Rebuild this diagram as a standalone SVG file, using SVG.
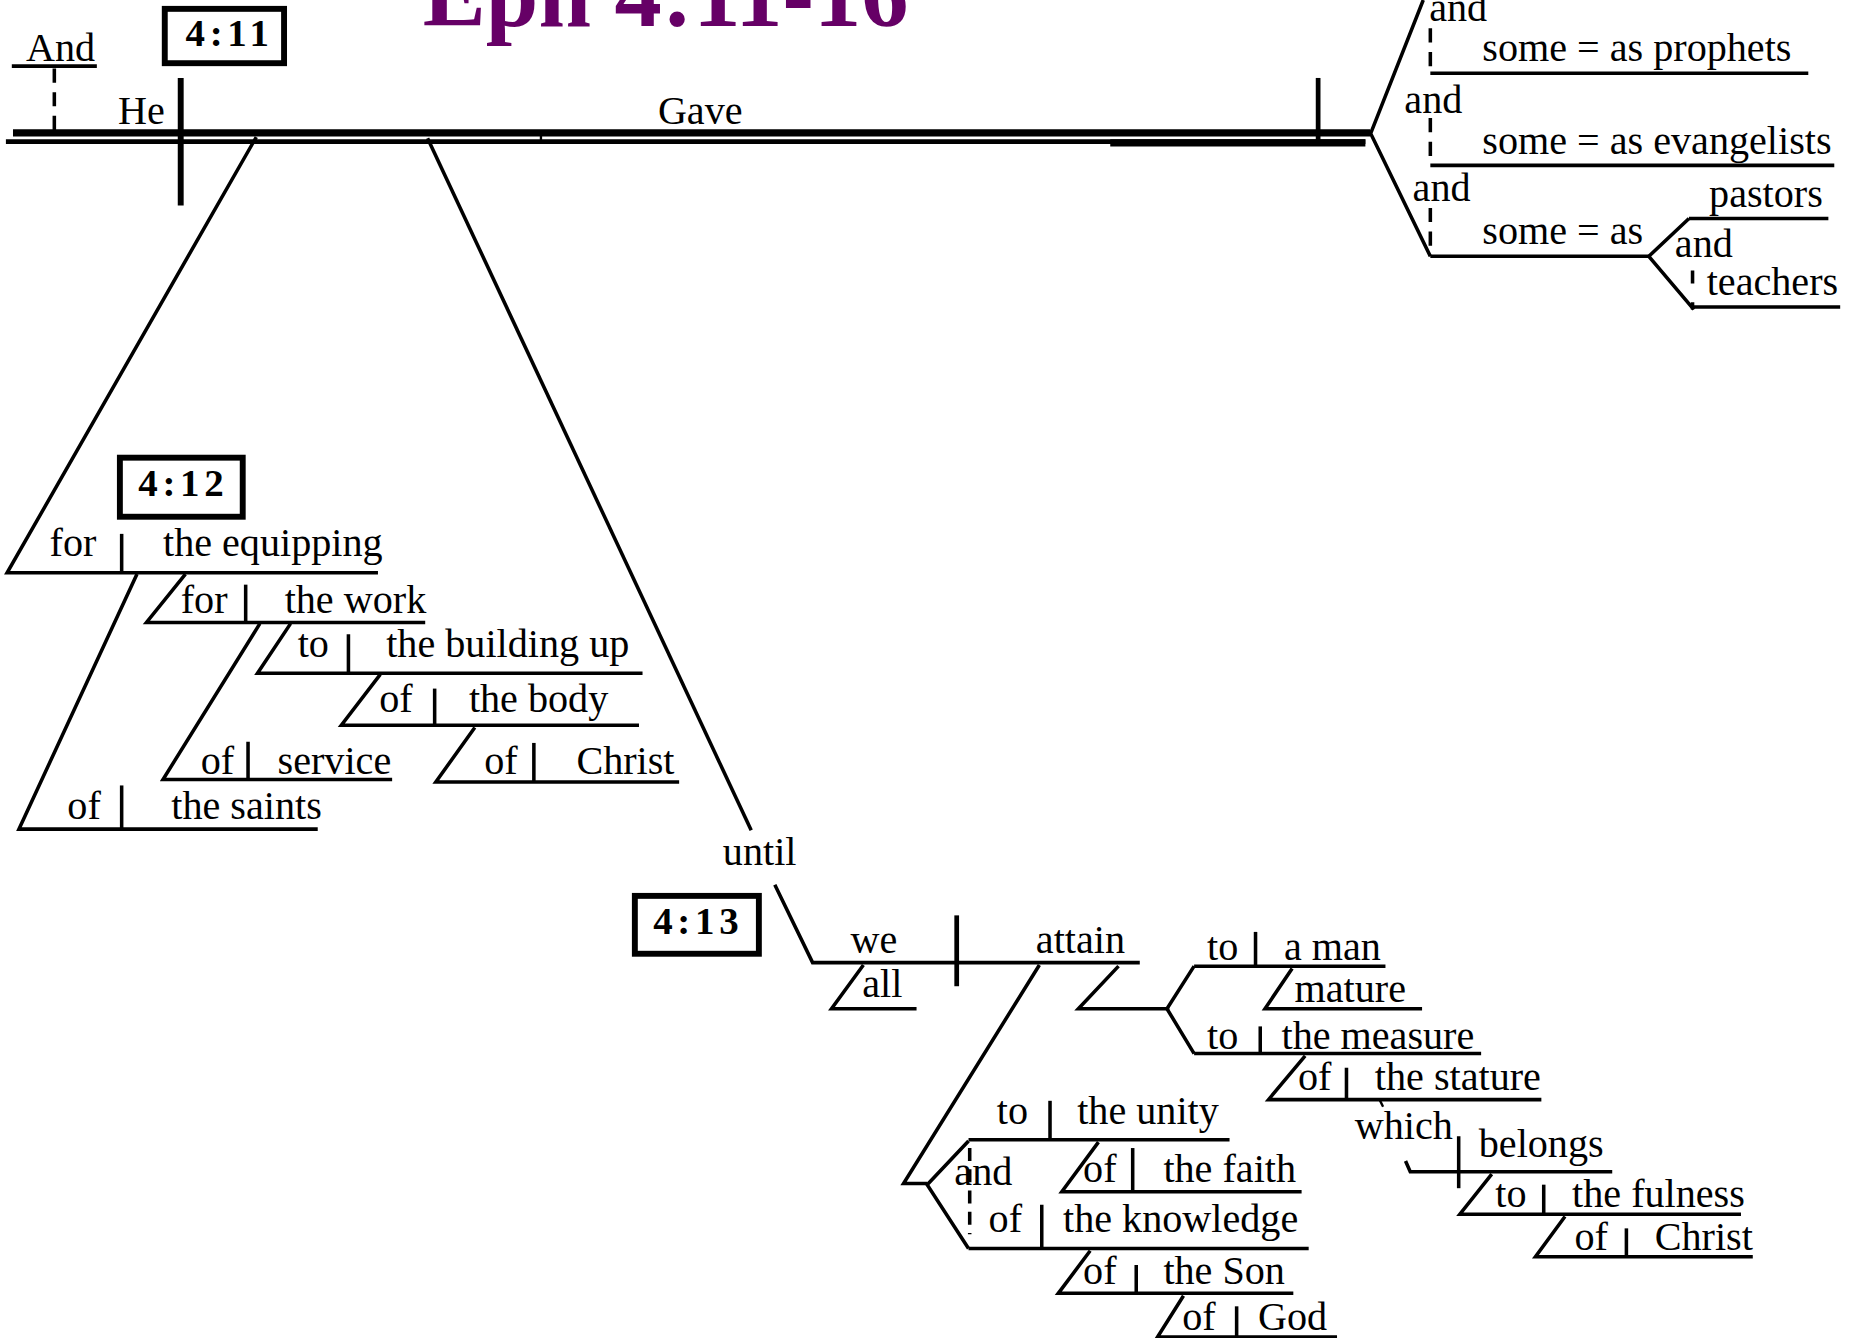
<svg xmlns="http://www.w3.org/2000/svg" width="1852" height="1338" viewBox="0 0 1852 1338">
<style>
.t{font-family:"Liberation Serif","Times New Roman",serif;font-size:34px;fill:#000}
.n{font-family:"Liberation Serif","Times New Roman",serif;font-size:33px;font-weight:bold;letter-spacing:4px;fill:#000}
.ttl{font-family:"Liberation Serif","Times New Roman",serif;font-size:80px;font-weight:bold;fill:#660066}
.l{stroke:#000;stroke-width:3;fill:none}
.v{stroke:#000;stroke-width:3;fill:none}
.d{stroke:#000;stroke-width:3;fill:none;stroke-dasharray:12 8}
.box{fill:#fff;stroke:#000;stroke-width:5}
</style>
<rect width="1852" height="1338" fill="#fff"/>
<g transform="scale(1.18112)">
<g id="title"><text class="ttl" x="358" y="22">Eph 4:11-16</text></g>
<g id="connectors">
  <line class="l" x1="10" y1="56" x2="82" y2="56"/>
  <line class="d" x1="46" y1="58" x2="46" y2="112"/>
  <line class="l" x1="11" y1="112.5" x2="1160" y2="112.5" style="stroke-width:6"/>
  <line class="l" x1="5" y1="120" x2="1156" y2="120" style="stroke-width:4"/>
  <line class="l" x1="940" y1="121" x2="1156" y2="121" style="stroke-width:6"/>
  <line class="l" x1="458" y1="115" x2="458" y2="119" style="stroke-width:2"/>
  <line class="v" x1="153" y1="66" x2="153" y2="174" style="stroke-width:5"/>
  <line class="v" x1="1116" y1="66" x2="1116" y2="119" style="stroke-width:4"/>
  <polyline class="l" points="1205,0 1160.5,113 1211,217"/>
  <line class="d" x1="1211" y1="24" x2="1211" y2="62"/>
  <line class="l" x1="1211" y1="62" x2="1531" y2="62"/>
  <line class="d" x1="1211" y1="100" x2="1211" y2="140"/>
  <line class="l" x1="1211" y1="140" x2="1553" y2="140"/>
  <line class="d" x1="1211" y1="176" x2="1211" y2="217"/>
  <line class="l" x1="1211" y1="217" x2="1396" y2="217"/>
  <polyline class="l" points="1430,185 1396,217 1434,262"/>
  <line class="l" x1="1430" y1="185" x2="1548" y2="185"/>
  <line class="d" x1="1433" y1="229" x2="1433" y2="262" style="stroke-dasharray:11 16 8"/>
  <line class="l" x1="1433" y1="260" x2="1558" y2="260"/>
  <polyline class="l" points="217,116 6,485 320,485"/>
  <line class="v" x1="103" y1="452" x2="103" y2="485"/>
  <polyline class="l" points="116,486 16,702 269,702"/>
  <line class="v" x1="103" y1="665" x2="103" y2="702"/>
  <polyline class="l" points="157,486 124,527 360,527"/>
  <line class="v" x1="208" y1="495" x2="208" y2="527"/>
  <polyline class="l" points="220,528 138,660 332,660"/>
  <line class="v" x1="210" y1="628" x2="210" y2="660"/>
  <polyline class="l" points="246,528 218,570 544,570"/>
  <line class="v" x1="295" y1="537" x2="295" y2="570"/>
  <polyline class="l" points="322,571 289,614 541,614"/>
  <line class="v" x1="368" y1="583" x2="368" y2="614"/>
  <polyline class="l" points="402,616 369,662 575,662"/>
  <line class="v" x1="452" y1="629" x2="452" y2="662"/>
  <line class="l" x1="362" y1="117" x2="636" y2="703"/>
  <polyline class="l" points="656,749 688,815 965,815"/>
  <line class="v" x1="810" y1="775" x2="810" y2="835" style="stroke-width:4"/>
  <polyline class="l" points="731,817 704,854 776,854"/>
  <polyline class="l" points="880,817 765,1002 785,1002"/>
  <polyline class="l" points="820,966 785,1003 820,1057"/>
  <line class="l" x1="820" y1="965" x2="1041" y2="965"/>
  <line class="v" x1="889" y1="932" x2="889" y2="965"/>
  <line class="d" x1="821" y1="972" x2="821" y2="1045" style="stroke-dasharray:11 7"/>
  <polyline class="l" points="930,967 899,1009 1102,1009"/>
  <line class="v" x1="959" y1="972" x2="959" y2="1009"/>
  <line class="l" x1="820" y1="1057" x2="1108" y2="1057"/>
  <line class="v" x1="882" y1="1020" x2="882" y2="1057"/>
  <polyline class="l" points="923,1059 896,1095 1095,1095"/>
  <line class="v" x1="962" y1="1071" x2="962" y2="1095"/>
  <polyline class="l" points="1002,1097 980,1132 1132,1132"/>
  <line class="v" x1="1047" y1="1106" x2="1047" y2="1132"/>
  <polyline class="l" points="947,818 913,854 990,854"/>
  <polyline class="l" points="1011,818 988,854 1011,892"/>
  <line class="l" x1="1011" y1="818" x2="1173" y2="818"/>
  <line class="v" x1="1063" y1="789" x2="1063" y2="818"/>
  <polyline class="l" points="1094,820 1071,854 1204,854"/>
  <line class="l" x1="1011" y1="892" x2="1254" y2="892"/>
  <line class="v" x1="1067" y1="869" x2="1067" y2="892"/>
  <polyline class="l" points="1105,894 1074,931 1305,931"/>
  <line class="v" x1="1140" y1="904" x2="1140" y2="931"/>
  <line class="l" x1="1168" y1="931" x2="1171" y2="937" style="stroke-width:2"/>
  <polyline class="l" points="1190,983 1194,992 1365,992"/>
  <line class="v" x1="1235" y1="962" x2="1235" y2="1006"/>
  <polyline class="l" points="1263,994 1236,1028 1474,1028"/>
  <line class="v" x1="1307" y1="1003" x2="1307" y2="1028"/>
  <polyline class="l" points="1325,1030 1300,1064 1484,1064"/>
  <line class="v" x1="1377" y1="1040" x2="1377" y2="1064"/>
</g>
<g id="v411"><rect class="box" x="139.5" y="7.5" width="101" height="46"/><text class="n" x="157" y="39">4:11</text></g>
<g id="v412"><rect class="box" x="101.5" y="387.5" width="104" height="50"/><text class="n" x="117" y="420">4:12</text></g>
<g id="v413"><rect class="box" x="537.5" y="758.5" width="105" height="49"/><text class="n" x="553" y="791">4:13</text></g>
<g id="main">
  <text class="t" x="22" y="52">And</text>
  <text class="t" x="100" y="105">He</text>
  <text class="t" x="557" y="105">Gave</text>
</g>
<g id="objects">
  <text class="t" x="1210" y="18">and</text>
  <text class="t" x="1255" y="52">some = as prophets</text>
  <text class="t" x="1189" y="96">and</text>
  <text class="t" x="1255" y="130">some = as evangelists</text>
  <text class="t" x="1196" y="170">and</text>
  <text class="t" x="1255" y="207">some = as</text>
  <text class="t" x="1447" y="175">pastors</text>
  <text class="t" x="1418" y="218">and</text>
  <text class="t" x="1445" y="250">teachers</text>
</g>
<g id="equipping">
  <text class="t" x="42" y="471">for</text>
  <text class="t" x="138" y="471">the equipping</text>
  <text class="t" x="57" y="693">of</text>
  <text class="t" x="145" y="693">the saints</text>
  <text class="t" x="153" y="519">for</text>
  <text class="t" x="241" y="519">the work</text>
  <text class="t" x="170" y="655">of</text>
  <text class="t" x="235" y="655">service</text>
  <text class="t" x="252" y="556">to</text>
  <text class="t" x="327" y="556">the building up</text>
  <text class="t" x="321" y="603">of</text>
  <text class="t" x="397" y="603">the body</text>
  <text class="t" x="410" y="655">of</text>
  <text class="t" x="488" y="655">Christ</text>
</g>
<g id="until">
  <text class="t" x="612" y="732">until</text>
  <text class="t" x="720" y="807">we</text>
  <text class="t" x="877" y="807">attain</text>
  <text class="t" x="730" y="844">all</text>
</g>
<g id="unity">
  <text class="t" x="844" y="952">to</text>
  <text class="t" x="912" y="952">the unity</text>
  <text class="t" x="808" y="1003">and</text>
  <text class="t" x="917" y="1001">of</text>
  <text class="t" x="985" y="1001">the faith</text>
  <text class="t" x="837" y="1043">of</text>
  <text class="t" x="900" y="1043">the knowledge</text>
  <text class="t" x="917" y="1087">of</text>
  <text class="t" x="985" y="1087">the Son</text>
  <text class="t" x="1001" y="1126">of</text>
  <text class="t" x="1065" y="1126">God</text>
</g>
<g id="man">
  <text class="t" x="1022" y="813">to</text>
  <text class="t" x="1087" y="813">a man</text>
  <text class="t" x="1096" y="848">mature</text>
  <text class="t" x="1022" y="888">to</text>
  <text class="t" x="1085" y="888">the measure</text>
  <text class="t" x="1099" y="923">of</text>
  <text class="t" x="1164" y="923">the stature</text>
  <text class="t" x="1147" y="964">which</text>
  <text class="t" x="1252" y="980">belongs</text>
  <text class="t" x="1266" y="1022">to</text>
  <text class="t" x="1331" y="1022">the fulness</text>
  <text class="t" x="1333" y="1058">of</text>
  <text class="t" x="1401" y="1058">Christ</text>
</g>
</g>
</svg>
